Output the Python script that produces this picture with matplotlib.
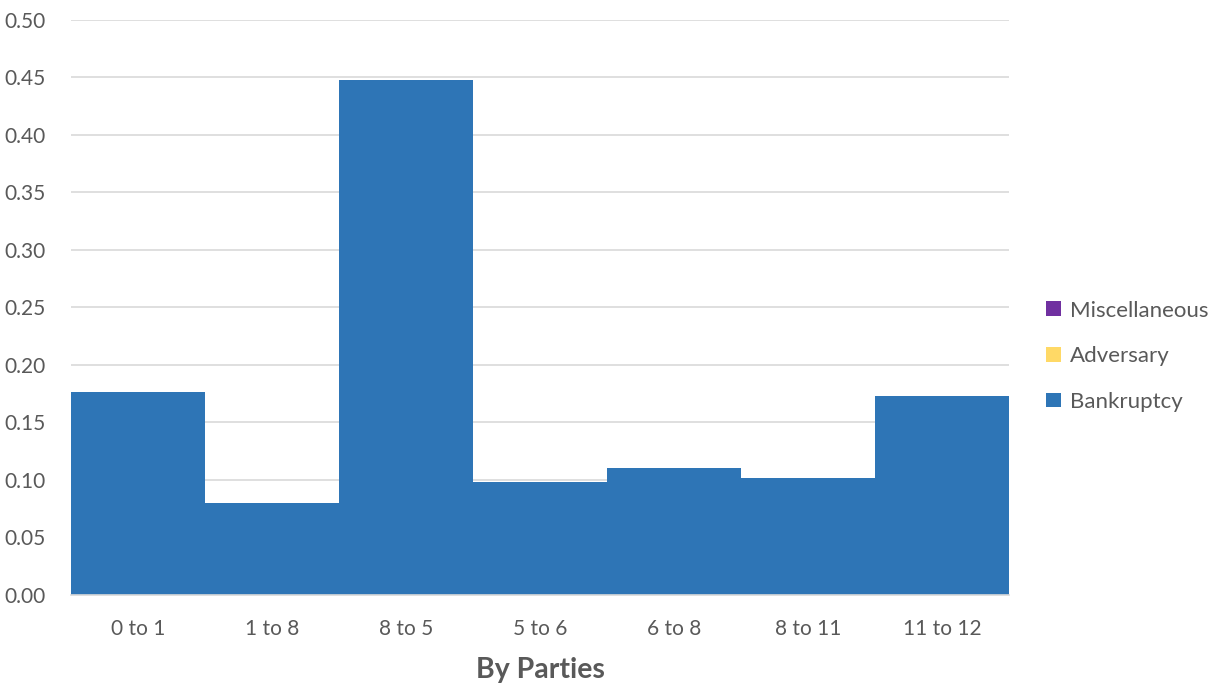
import numpy as np
import matplotlib
matplotlib.use('Agg')
import matplotlib.pyplot as plt

plt.rcParams['font.family'] = ['Lato', 'DejaVu Sans']

categories = ['0 to 1', '1 to 8', '8 to 5', '5 to 6', '6 to 8', '8 to 11', '11 to 12']
bankruptcy = [0.176, 0.080, 0.448, 0.098, 0.110, 0.102, 0.173]
adversary = [0, 0, 0, 0, 0, 0, 0]
miscellaneous = [0, 0, 0, 0, 0, 0, 0]

text_color = '#595959'

fig = plt.figure(figsize=(12.19, 6.83), dpi=100)
ax = fig.add_axes([0.058, 0.129, 0.77, 0.842])

x = np.arange(len(categories))
b1 = ax.bar(x, bankruptcy, width=1.0, color='#2E75B6', label='Bankruptcy', zorder=2)
bottom2 = np.array(bankruptcy)
b2 = ax.bar(x, adversary, width=1.0, bottom=bottom2, color='#FFD966', label='Adversary', zorder=2)
bottom3 = bottom2 + np.array(adversary)
b3 = ax.bar(x, miscellaneous, width=1.0, bottom=bottom3, color='#7030A0', label='Miscellaneous', zorder=2)

ax.set_xlim(-0.5, len(categories) - 0.5)
ax.set_ylim(0, 0.5)
ax.set_yticks(np.arange(0, 0.51, 0.05))
ax.set_yticklabels(['{:.2f}'.format(v) for v in np.arange(0, 0.51, 0.05)])
ax.set_xticks(x)
ax.set_xticklabels(categories)
ax.yaxis.grid(True, color='#D9D9D9', linewidth=1.2, zorder=0)
ax.set_axisbelow(True)

for s in ['top', 'right', 'left']:
    ax.spines[s].set_visible(False)
ax.spines['bottom'].set_color('#D9D9D9')
ax.spines['bottom'].set_linewidth(1.2)
ax.tick_params(axis='both', length=0, labelsize=15, colors=text_color)
ax.tick_params(axis='y', pad=48)
for lbl in ax.get_yticklabels():
    lbl.set_horizontalalignment('left')
ax.tick_params(axis='x', pad=17.5)

ax.set_xlabel('By Parties', fontsize=20.5, fontweight='bold', color=text_color, labelpad=13)

handles = [b3, b2, b1]
leg = ax.legend(handles, ['Miscellaneous', 'Adversary', 'Bankruptcy'],
                loc='center left', bbox_to_anchor=(1.03, 0.415), frameon=False,
                fontsize=16, handlelength=0.65, handleheight=0.65, handletextpad=0.4,
                labelspacing=1.15, labelcolor=text_color, borderaxespad=0)

fig.savefig('out.png', dpi=100)
